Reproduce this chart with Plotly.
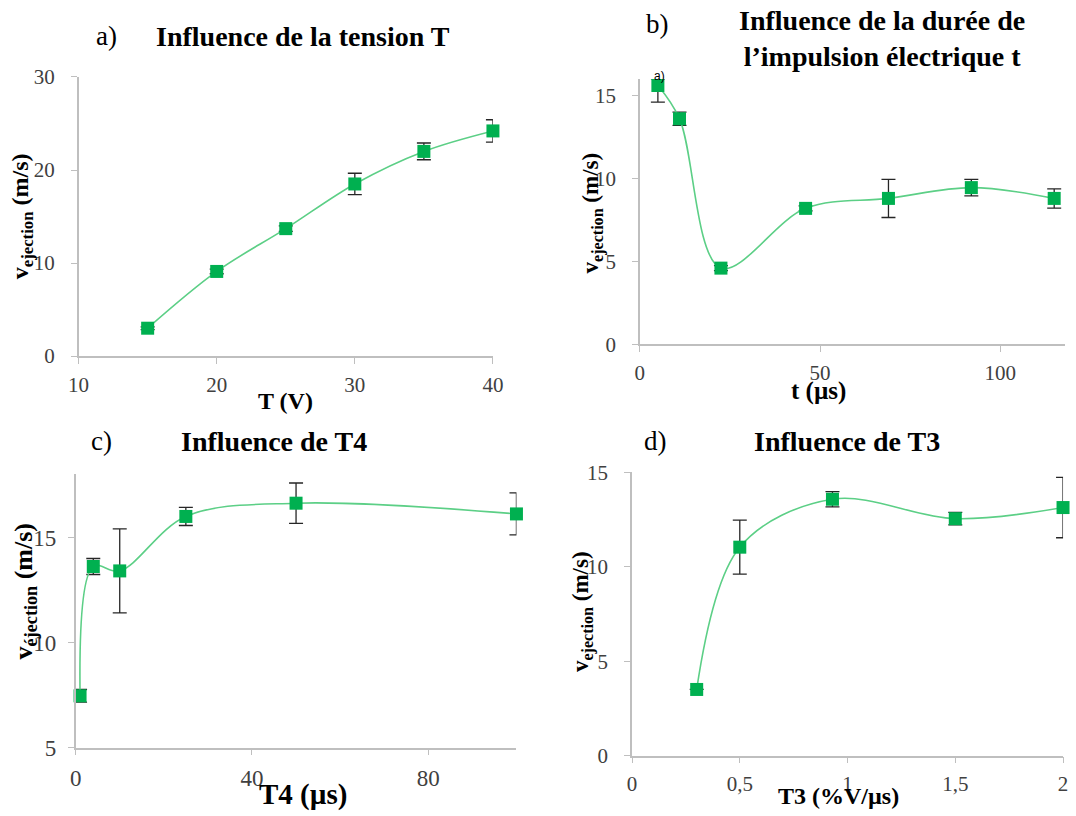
import plotly.graph_objects as go

W, H = 1076, 816

# ---- data ----
a_x = [15, 20, 25, 30, 35, 40]
a_y = [3.0, 9.1, 13.7, 18.5, 22.0, 24.2]
a_err = [0.15, 0.25, 0.3, 1.15, 0.9, 1.2]

b_x = [5, 11, 22.5, 46, 69, 92, 115]
b_y = [15.6, 13.6, 4.6, 8.2, 8.8, 9.45, 8.8]
b_err_up = [0.4, 0.4, 0.15, 0.15, 1.15, 0.5, 0.58]
b_err_down = [1.0, 0.4, 0.15, 0.15, 1.15, 0.5, 0.58]

c_x = [1, 4, 10, 25, 50, 100]
c_y = [7.47, 13.62, 13.41, 16.0, 16.63, 16.12]
c_err = [0.3, 0.38, 2.0, 0.43, 0.96, 1.0]

d_x = [0.3, 0.5, 0.93, 1.5, 2.0]
d_y = [3.5, 11.04, 13.58, 12.55, 13.14]
d_err = [0.0, 1.43, 0.4, 0.33, 1.6]

d_tickvals = [0, 0.5, 1, 1.5, 2]
d_ticktext = ["0", "0,5", "1", "1,5", "2"]

SERIF = "Liberation Serif, Times New Roman, serif"
MARK = "#00b050"
LINE = "#5ccf86"
AXC = "#bfbfbf"
TICKC = "#404040"


def px(x):
    return x / W


def py(y):
    return 1 - y / H


fig = go.Figure()

panels = [
    dict(x=a_x, y=a_y, up=a_err, down=a_err, xd=(69, 492), yd=(67, 355),
         xr=[10, 40], yr=[0, 30], dx=10, dy=10, tf=21, so=12),
    dict(x=b_x, y=b_y, up=b_err_up, down=b_err_down, xd=(642, 1076), yd=(69, 343),
         xr=[0, 118], yr=[0, 16], dx=50, dy=5, tf=21, so=12),
    dict(x=c_x, y=c_y, up=c_err, down=c_err, xd=(66, 516), yd=(477, 759),
         xr=[0, 100], yr=[5, 18], dx=40, dy=5, tf=23, so=7),
    dict(x=d_x, y=d_y, up=d_err, down=d_err, xd=(634, 1074), yd=(475, 767),
         xr=[0, 2], yr=[0, 15], dx=0.5, dy=5, tf=21, so=12),
]

for i, p in enumerate(panels):
    n = "" if i == 0 else str(i + 1)
    fig.add_trace(go.Scatter(
        x=p["x"], y=p["y"], mode="lines+markers",
        xaxis="x" + n, yaxis="y" + n,
        line=dict(color=LINE, width=1.6, shape="spline", smoothing=1.0),
        marker=dict(symbol="square", size=13, color=MARK),
        error_y=dict(type="data", array=p["up"], arrayminus=p["down"],
                     color="#262626", thickness=1.3, width=7),
        cliponaxis=False, showlegend=False, hoverinfo="skip",
    ))
    xa = dict(domain=[px(p["xd"][0]), px(p["xd"][1])], range=p["xr"],
              anchor="y" + n, showline=True, linecolor=AXC, linewidth=1.5,
              ticks="outside", tickcolor=AXC, ticklen=6, tickwidth=1.2,
              showgrid=False, zeroline=False, dtick=p["dx"], tick0=0,
              ticklabelstandoff=3,
              tickfont=dict(family=SERIF, size=p["tf"], color=TICKC))
    ya = dict(domain=[py(p["yd"][1]), py(p["yd"][0])], range=p["yr"],
              anchor="x" + n, showline=True, linecolor=AXC, linewidth=1.5,
              ticks="outside", tickcolor=AXC, ticklen=6, tickwidth=1.2,
              showgrid=False, zeroline=False, dtick=p["dy"], tick0=0,
              ticklabelstandoff=p["so"],
              tickfont=dict(family=SERIF, size=p["tf"], color=TICKC))
    if i == 3:
        xa.update(tickmode="array", tickvals=d_tickvals, ticktext=d_ticktext)
    fig.update_layout(**{"xaxis" + n: xa, "yaxis" + n: ya})

ann = []


def add(text, x, y, size, bold=False, angle=0, family=SERIF, color="black"):
    t = "<b>" + text + "</b>" if bold else text
    ann.append(dict(text=t, x=px(x), y=py(y), xref="paper", yref="paper",
                    showarrow=False, textangle=angle, xanchor="center",
                    yanchor="middle", font=dict(family=family, size=size, color=color)))


# panel titles
add("a)", 98, 25, 27)
add("Influence de la tension T", 298, 25, 28, bold=True)
add("b)", 660, 12, 27)
add("Influence de la durée de<br>l’impulsion électrique t", 889, 27, 28, bold=True)
add("c)", 92, 443, 27)
add("Influence de T4", 268, 443, 28, bold=True)
add("d)", 658, 443, 27)
add("Influence de T3", 853, 443, 28, bold=True)

# x-axis titles
add("T (V)", 280, 401, 24, bold=True)
add("t (µs)", 824, 391, 25, bold=True)
add("T4 (µs)", 298, 807, 29, bold=True)
add("T3 (%V/µs)", 845, 809, 24, bold=True)

# y-axis titles
add("v<sub>ejection</sub> (m/s)", 11, 211, 24, bold=True, angle=-90)
add("v<sub>ejection</sub> (m/s)", 594, 207, 23, bold=True, angle=-90)
add("v<sub>éjection</sub> (m/s)", 14, 598, 26, bold=True, angle=-90)
add("v<sub>ejection</sub> (m/s)", 583, 619, 23, bold=True, angle=-90)

# stray label in panel b
add("a)", 662, 66, 12, family="Liberation Sans, Arial, sans-serif")

fig.update_layout(
    width=W, height=H, margin=dict(l=0, r=0, t=0, b=0),
    paper_bgcolor="white", plot_bgcolor="white",
    annotations=ann, hovermode=False,
)

fig.write_html("out.html", config={"displayModeBar": False},
               post_script="document.body.style.margin='0px';")
